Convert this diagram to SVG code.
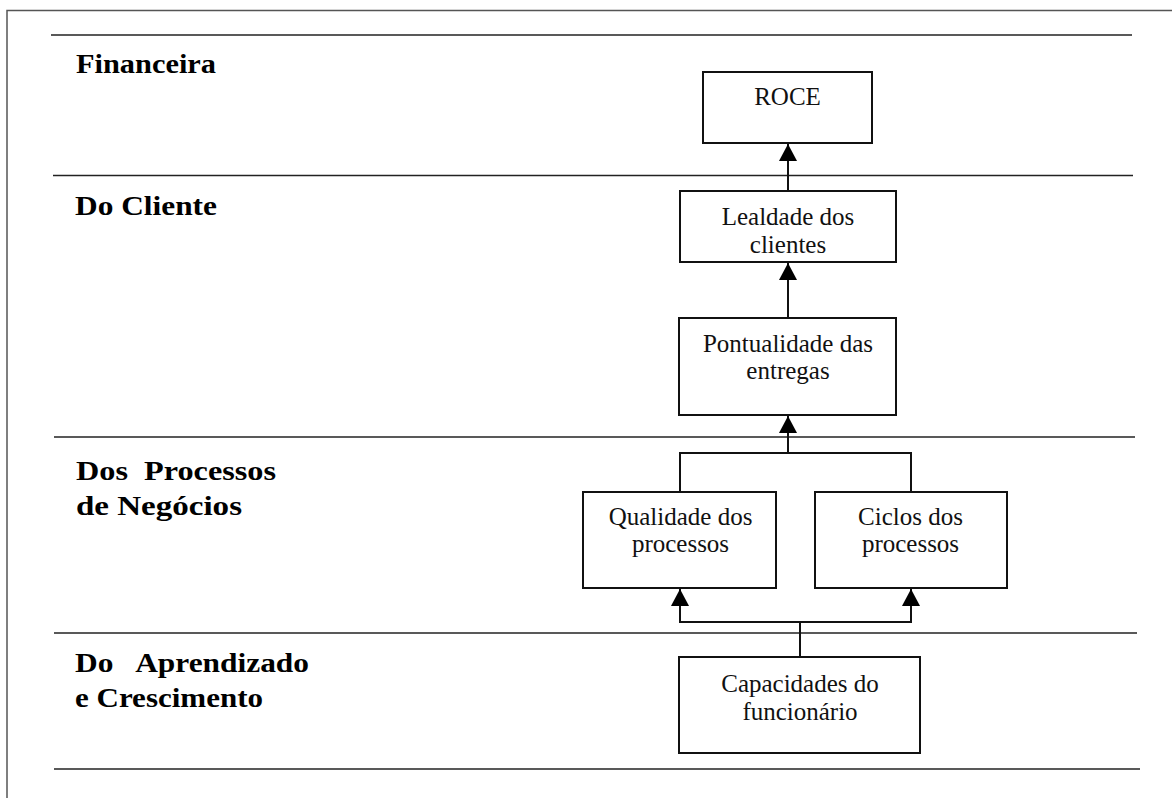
<svg xmlns="http://www.w3.org/2000/svg" width="1172" height="798" viewBox="0 0 1172 798">
<defs>
<style>
.frame{fill:none;stroke:#555;stroke-width:1.5}
.sep{fill:none;stroke:#222;stroke-width:1.5}
.box{fill:#fff;stroke:#111;stroke-width:2}
.conn{fill:none;stroke:#111;stroke-width:2}
.lbl{font-family:"Liberation Serif","Times New Roman",serif;font-weight:bold;font-size:28px;fill:#000}
.txt{font-family:"Liberation Serif","Times New Roman",serif;font-size:25px;fill:#111;text-anchor:middle}
</style>
<marker id="arr" markerUnits="userSpaceOnUse" markerWidth="18" markerHeight="18" viewBox="0 0 16 16" refX="15" refY="8" orient="auto">
<path d="M0 0 L15 8 L0 16 Z" fill="#000"/>
</marker>
</defs>
<rect width="1172" height="798" fill="#fff"/>
<path class="frame" d="M7 798 V10.5 H1172"/>
<g id="sections">
<line class="sep" x1="51" y1="35" x2="1132" y2="35"/>
<line class="sep" x1="53" y1="175.5" x2="1133" y2="175.5"/>
<line class="sep" x1="54" y1="437" x2="1135" y2="437"/>
<line class="sep" x1="54" y1="633" x2="1137" y2="633"/>
<line class="sep" x1="54" y1="769" x2="1140" y2="769"/>
</g>
<g id="labels">
<text class="lbl" x="76" y="73" textLength="140" lengthAdjust="spacingAndGlyphs">Financeira</text>
<text class="lbl" x="75" y="215" textLength="142" lengthAdjust="spacingAndGlyphs">Do Cliente</text>
<text class="lbl" x="76" y="480" textLength="200" lengthAdjust="spacingAndGlyphs" xml:space="preserve">Dos  Processos</text>
<text class="lbl" x="76" y="515" textLength="166" lengthAdjust="spacingAndGlyphs">de Negócios</text>
<text class="lbl" x="75" y="672" textLength="234" lengthAdjust="spacingAndGlyphs" xml:space="preserve">Do   Aprendizado</text>
<text class="lbl" x="75" y="707" textLength="188" lengthAdjust="spacingAndGlyphs">e Crescimento</text>
</g>
<g id="connectors">
<path class="conn" d="M788 191 V144" marker-end="url(#arr)"/>
<path class="conn" d="M788 318 V263" marker-end="url(#arr)"/>
<path class="conn" d="M680 492 V453 H911 V492"/>
<path class="conn" d="M788 453 V416" marker-end="url(#arr)"/>
<path class="conn" d="M800 657 V622 H680 V589" marker-end="url(#arr)"/>
<path class="conn" d="M800 622 H911 V589" marker-end="url(#arr)"/>
</g>
<g id="roce">
<rect class="box" x="703" y="72" width="169" height="71"/>
<text class="txt" x="787.5" y="105">ROCE</text>
</g>
<g id="lealdade">
<rect class="box" x="680" y="191" width="216" height="71"/>
<text class="txt" x="788" y="225">Lealdade dos</text>
<text class="txt" x="788" y="253">clientes</text>
</g>
<g id="pontualidade">
<rect class="box" x="679" y="318" width="217" height="97"/>
<text class="txt" x="788" y="352">Pontualidade das</text>
<text class="txt" x="788" y="379">entregas</text>
</g>
<g id="qualidade">
<rect class="box" x="583" y="492" width="193" height="96"/>
<text class="txt" x="680.5" y="525">Qualidade dos</text>
<text class="txt" x="680.5" y="552">processos</text>
</g>
<g id="ciclos">
<rect class="box" x="815" y="492" width="192" height="96"/>
<text class="txt" x="910.5" y="525">Ciclos dos</text>
<text class="txt" x="910.5" y="552">processos</text>
</g>
<g id="capacidades">
<rect class="box" x="679" y="657" width="241" height="96"/>
<text class="txt" x="800" y="692">Capacidades do</text>
<text class="txt" x="800" y="720">funcionário</text>
</g>
</svg>
